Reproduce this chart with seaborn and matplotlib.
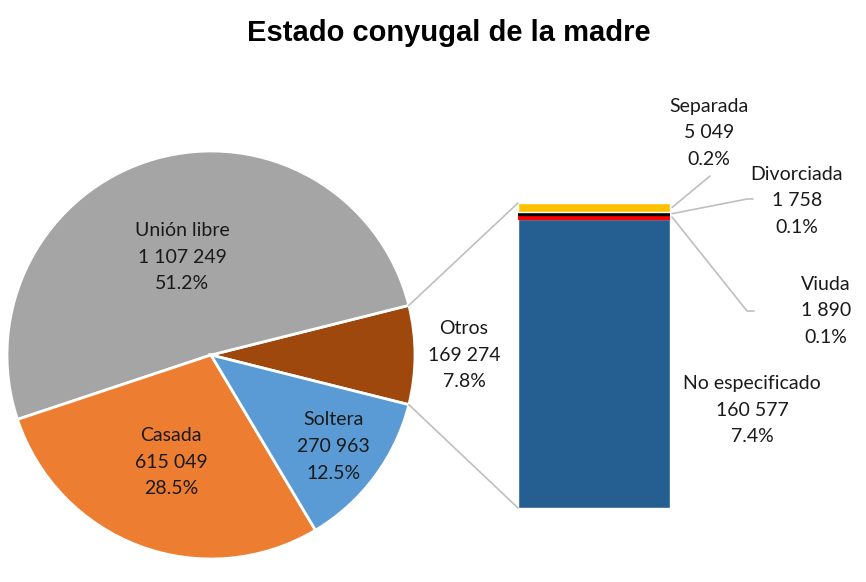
import numpy as np
import matplotlib
matplotlib.use("Agg")
import matplotlib.pyplot as plt
from matplotlib.patches import ConnectionPatch
from matplotlib.lines import Line2D
import seaborn as sns

# pie data
pie_labels = ["Otros", "Unión libre", "Casada", "Soltera"]
pie_values = [169274, 1107249, 615049, 270963]
pie_pcts = ["7.8%", "51.2%", "28.5%", "12.5%"]
pie_colors = ["#9E480E", "#A5A5A5", "#ED7D31", "#5B9BD5"]

# breakdown of "Otros" (bottom to top)
bar_labels = ["No especificado", "Viuda", "Divorciada", "Separada"]
bar_values = [160577, 1890, 1758, 5049]
bar_pcts = ["7.4%", "0.1%", "0.1%", "0.2%"]
bar_colors = ["#255E91", "#FF0000", "#000000", "#FFC000"]

sns.set_theme(style="white")
plt.rcParams["font.family"] = ["Lato", "DejaVu Sans"]

W, H = 866, 582
fig = plt.figure(figsize=(W / 100, H / 100), dpi=100)

def fmt(v):
    return f"{v:,}".replace(",", " ")

# pie axes: center (211,355) px, radius 204 px
cx, cy, r = 211, 355, 204
ax_pie = fig.add_axes([(cx - r) / W, (H - cy - r) / H, 2 * r / W, 2 * r / H])
total = sum(pie_values)
start = -180 * pie_values[0] / total
wedges, _ = ax_pie.pie(pie_values, colors=pie_colors, startangle=start, counterclock=True,
                       wedgeprops=dict(edgecolor="white", linewidth=2))
ax_pie.set_xlim(-1, 1)
ax_pie.set_ylim(-1, 1)
ax_pie.axis("off")

label_r = [1.24, 0.5, 0.56, 0.75]
for w, lab, v, p, lr in zip(wedges, pie_labels, pie_values, pie_pcts, label_r):
    ang = np.deg2rad((w.theta1 + w.theta2) / 2)
    ax_pie.text(lr * np.cos(ang), lr * np.sin(ang), f"{lab}\n{fmt(v)}\n{p}",
                ha="center", va="center", fontsize=14, color="#1a1a1a",
                linespacing=1.7, clip_on=False)

# stacked bar axes
bx0, bx1, by0, by1 = 518, 670, 508, 203
ax_bar = fig.add_axes([bx0 / W, (H - by0) / H, (bx1 - bx0) / W, (by0 - by1) / H])
bottoms = np.concatenate([[0], np.cumsum(bar_values)[:-1]])
for i, (v, b, c) in enumerate(zip(bar_values, bottoms, bar_colors)):
    ec = "white" if i in (0, 3) else c
    sns.barplot(x=[0], y=[v], bottom=b, color=c, width=1, ax=ax_bar,
                edgecolor=ec, linewidth=1, saturation=1, native_scale=True)
otros_total = sum(bar_values)
ax_bar.set_xlim(-0.5, 0.5)
ax_bar.set_ylim(0, otros_total)
ax_bar.axis("off")

# connectors between pie slice and bar
w0 = wedges[0]
for th, yb in [(w0.theta2, otros_total), (w0.theta1, 0)]:
    t = np.deg2rad(th)
    con = ConnectionPatch(xyA=(np.cos(t), np.sin(t)), coordsA=ax_pie.transData,
                          xyB=(-0.5, yb), coordsB=ax_bar.transData,
                          color="#BFBFBF", linewidth=1.2)
    fig.add_artist(con)

# bar labels (figure pixel positions, y from top)
text_pos = [(752, 410), (826, 311), (797, 201), (709, 133)]
leader_end = [None, [(747, 311), (754, 311)], [(747, 199), (753, 199)], [(710, 176)]]
mids = bottoms + np.array(bar_values) / 2
for lab, v, p, (tx, ty), ends, m in zip(bar_labels, bar_values, bar_pcts, text_pos, leader_end, mids):
    fig.text(tx / W, 1 - ty / H, f"{lab}\n{fmt(v)}\n{p}", ha="center", va="center",
             fontsize=14, color="#1a1a1a", linespacing=1.7)
    if ends is None:
        continue
    x0, y0 = ax_bar.transData.transform((0.5, m))
    xs = [x0 + 2] + [e[0] for e in ends]
    ys = [y0] + [H - e[1] for e in ends]
    fig.add_artist(Line2D(xs, ys, transform=None, color="#BFBFBF", linewidth=1.2))

fig.text(0.518, 1 - 33 / H, "Estado conyugal de la madre", ha="center", va="center",
         fontsize=21, fontweight="bold", family="Liberation Sans", color="black")

fig.savefig("out.png", dpi=100, facecolor="white")
